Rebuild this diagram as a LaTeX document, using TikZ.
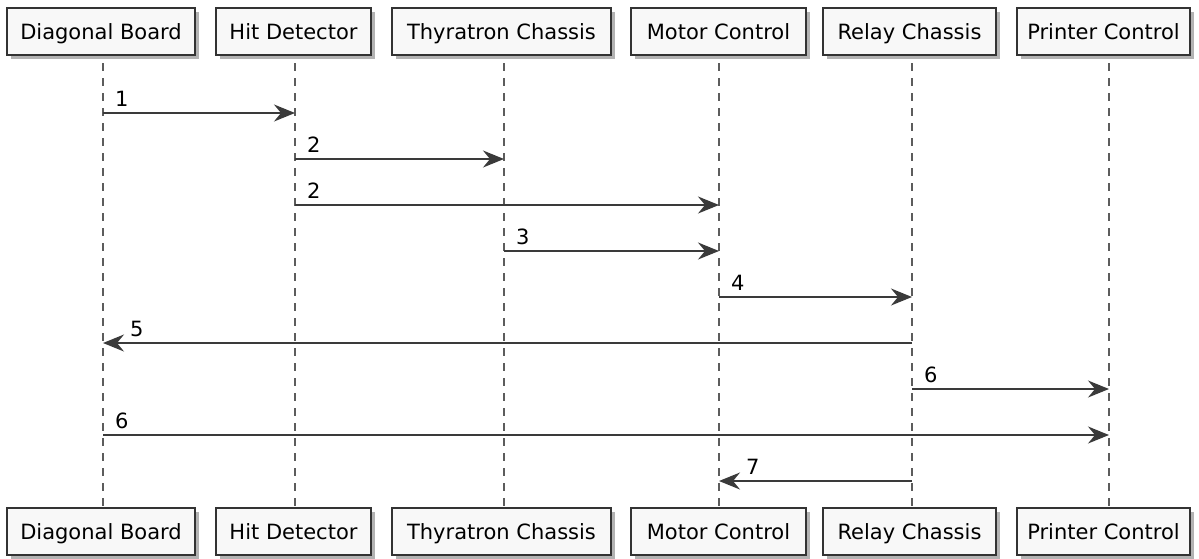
\documentclass[tikz,border=0pt]{standalone}
\usepackage{fontspec}
\setmainfont{DejaVu Sans}
\usetikzlibrary{arrows.meta}
\definecolor{boxfill}{HTML}{F8F8F8}
\definecolor{lineclr}{HTML}{333333}
\definecolor{arrclr}{HTML}{3A3A3A}
\begin{document}
\begin{tikzpicture}[x=1pt,y=-1pt,
  partbox/.style={draw=lineclr,line width=1.4pt,fill=boxfill,inner sep=0pt,
    minimum height=47pt,text height=16pt,text depth=1pt,
    font=\fontsize{21}{24}\selectfont,text=black},
  shadowbox/.style={fill=black!50,opacity=0.6},
  lifeline/.style={draw=lineclr!80,line width=1.1pt,dash pattern=on 8pt off 7pt},
  msg/.style={draw=arrclr,line width=1.5pt,-{Stealth[length=21pt,width=17pt,inset=7pt]}},
  lbl/.style={inner sep=0pt,font=\fontsize{21}{24}\selectfont,text=black}]
\useasboundingbox (0,0) rectangle (1199,558);
\foreach \n/\l/\r/\c/\t in {db/7/195/103/Diagonal Board,hd/216/371/295/Hit Detector,tc/392/611/504/Thyratron Chassis,mc/631/806/719/Motor Control,rc/823/996/912/Relay Chassis,pc/1017/1190/1109/Printer Control}{
  \fill[shadowbox] (\l+4,8+4) rectangle (\r+4,55+4);
  \fill[shadowbox] (\l+4,508+4) rectangle (\r+4,555+4);
  \coordinate (\n-x) at (\c,0);
  \node[partbox,minimum width={(\r-\l)*1pt}] (\n-top) at ({(\l+\r)/2},31.5) {\t};
  \node[partbox,minimum width={(\r-\l)*1pt}] (\n-bot) at ({(\l+\r)/2},531.5) {\t};
  \coordinate (\n-a) at (\c,63);
  \coordinate (\n-b) at (\c,508);
  \draw[lifeline] (\n-a) -- (\n-b);
}
\newcommand\msgR[4]{% from, to, y, label
  \draw[msg] (#1-x |- 0,#3) -- (#2-x |- 0,#3);
  \node[lbl,anchor=base west] at ([xshift=12pt]#1-x |- 0,{#3-7}) {#4};}
\newcommand\msgL[4]{% from (right), to (left), y, label
  \draw[msg] (#1-x |- 0,#3) -- (#2-x |- 0,#3);
  \node[lbl,anchor=base west] at ([xshift=27pt]#2-x |- 0,{#3-7}) {#4};}
\msgR{db}{hd}{113}{1}
\msgR{hd}{tc}{159}{2}
\msgR{hd}{mc}{205}{2}
\msgR{tc}{mc}{251}{3}
\msgR{mc}{rc}{297}{4}
\msgL{rc}{db}{343}{5}
\msgR{rc}{pc}{389}{6}
\msgR{db}{pc}{435}{6}
\msgL{rc}{mc}{481}{7}
\end{tikzpicture}
\end{document}
